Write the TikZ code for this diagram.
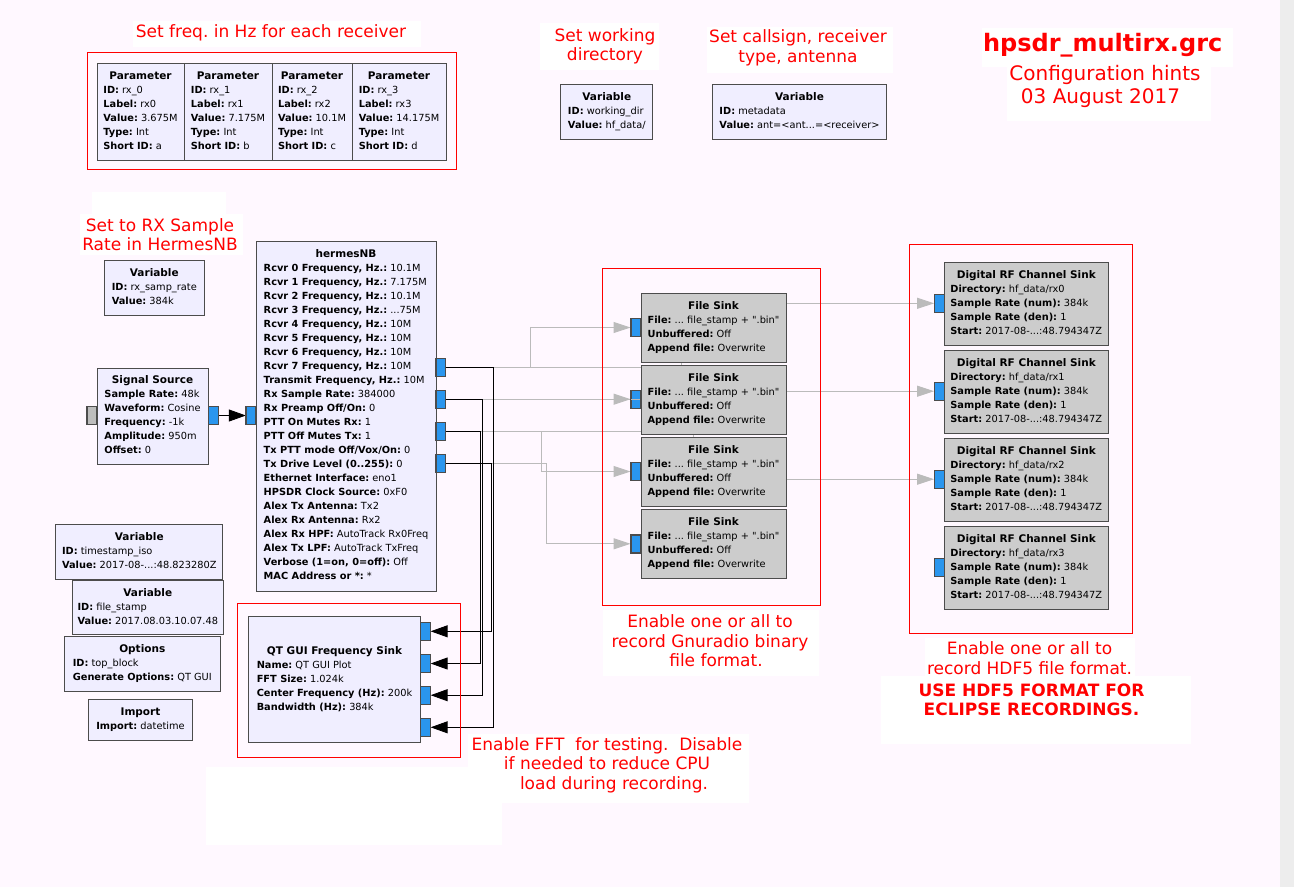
\documentclass[tikz,border=0pt]{standalone}
\usepackage{fontspec}
\setmainfont{DejaVu Sans}[Ligatures=TeXOff]
\usetikzlibrary{arrows.meta,calc}
\frenchspacing
\definecolor{bgc}{HTML}{FFF8FF}
\definecolor{stripc}{HTML}{EDEDED}
\definecolor{blkfill}{HTML}{F0EEFF}
\definecolor{disfill}{HTML}{CCCCCC}
\definecolor{bordc}{HTML}{4C4C4C}
\definecolor{portc}{HTML}{2A96EE}
\definecolor{gportc}{HTML}{BDBDBD}
\definecolor{glinec}{HTML}{BBBBBB}
\newcommand\kvp[2]{\textbf{#1:} #2}
\newcommand\blkt[2]{{\fontsize{9.8}{14}\selectfont\begin{tabular}{@{}l@{}}\multicolumn{1}{@{}c@{}}{\fontsize{10.5}{14}\selectfont\bfseries #1}\\ #2\end{tabular}}}
\begin{document}
\begin{tikzpicture}[x=1pt,y=-1pt,
  blk/.style={draw=bordc, line width=0.95pt, fill=blkfill, inner sep=0pt, text=black},
  dblk/.style={blk, fill=disfill},
  port/.style={draw=bordc, line width=0.8pt, fill=portc, minimum width=9.5pt, minimum height=17.5pt, inner sep=0pt},
  gport/.style={port, fill=gportc},
  sig/.style={draw=black, line width=0.9pt, -{Triangle[length=17pt,width=12pt]}},
  dsig/.style={draw=glinec, line width=0.9pt, -{Triangle[length=17pt,width=11pt]}},
  redbox/.style={draw=red, line width=0.9pt},
  whitebox/.style={fill=white},
  note/.style={text=red, font=\fontsize{17}{19.4}\selectfont, align=center, inner sep=0pt},
]
\useasboundingbox (0,0) rectangle (1294,887);
\fill[bgc] (0,0) rectangle (1280,887);
\fill[stripc] (1280,0) rectangle (1294,887);

% ---------- ports ----------
\node[gport] (ss_i) at (92,415.5) {};
\node[port] (ss_o) at (213.3,415.5) {};
\node[port] (h_i) at (251,415.5) {};
\node[port] (h_o0) at (440.5,367.2) {};
\node[port] (h_o1) at (440.5,399.2) {};
\node[port] (h_o2) at (440.5,431.5) {};
\node[port] (h_o3) at (440.5,463.2) {};
\node[port] (fs0_i) at (635.7,327.5) {};
\node[port] (fs1_i) at (635.7,399.5) {};
\node[port] (fs2_i) at (635.7,471.5) {};
\node[port] (fs3_i) at (635.7,543.8) {};
\node[port] (drf0_i) at (939.3,303.3) {};
\node[port] (drf1_i) at (939.3,391.2) {};
\node[port] (drf2_i) at (939.3,479.2) {};
\node[port] (drf3_i) at (939.3,567.5) {};
\node[port] (qt_i0) at (425.5,727.3) {};
\node[port] (qt_i1) at (425.5,695.2) {};
\node[port] (qt_i2) at (425.5,663.5) {};
\node[port] (qt_i3) at (425.5,631.3) {};

% ---------- connections ----------
\draw[dsig] (h_o0.east) -- ++(84.3,0) |- (fs0_i.west);
\draw[dsig] (h_o0.east) -- ++(236,0) |- (drf0_i.west);
\draw[dsig] (h_o1.east) -- (h_o1.east -| fs1_i.west);
\draw[dsig] (h_o1.east) -- ++(255,0) |- (drf1_i.west);
\draw[dsig] (h_o2.east) -- ++(95.3,0) |- (fs2_i.west);
\draw[dsig] (h_o2.east) -- ++(247.7,0) |- (drf2_i.west);
\draw[dsig] (h_o3.east) -- ++(100.3,0) |- (fs3_i.west);
\draw[sig] (ss_o.east) -- (h_i.west);
\draw[sig] (h_o0.east) -- ++(47.5,0) |- (qt_i0.east);
\draw[sig] (h_o1.east) -- ++(36.7,0) |- (qt_i1.east);
\draw[sig] (h_o2.east) -- ++(34.7,0) |- (qt_i2.east);
\draw[sig] (h_o3.east) -- ++(45.5,0) |- (qt_i3.east);

% ---------- white text backgrounds ----------
\fill[whitebox] (133,21) rectangle (421,47);
\fill[whitebox] (540,23) rectangle (659,70);
\fill[whitebox] (707,27) rectangle (893,73);
\fill[whitebox] (982,28) rectangle (1233,67);
\fill[whitebox] (1007,67) rectangle (1211,121);
\fill[whitebox] (92,192) rectangle (226,215);
\fill[whitebox] (80,214) rectangle (243,255);
\fill[whitebox] (603,610) rectangle (819,676);
\fill[whitebox] (925,638) rectangle (1135,677);
\fill[whitebox] (881,676) rectangle (1191,744);
\fill[whitebox] (468,734) rectangle (749,803);
\fill[whitebox] (206,767) rectangle (502,845);

% ---------- red frames ----------
\draw[redbox] (87,52) rectangle (456,169);
\draw[redbox] (602,268) rectangle (820,605);
\draw[redbox] (909,244) rectangle (1132,633);
\draw[redbox] (237,603) rectangle (460,757);

% ---------- blocks ----------
\node[blk, minimum width=87pt, minimum height=97pt] (p0) at (140.5,111.5)
  {\blkt{Parameter}{\kvp{ID}{rx\_0}\\ \kvp{Label}{rx0}\\ \kvp{Value}{3.675M}\\ \kvp{Type}{Int}\\ \kvp{Short ID}{a}}};
\node[blk, minimum width=88pt, minimum height=97pt] (p1) at (228,111.5)
  {\blkt{Parameter}{\kvp{ID}{rx\_1}\\ \kvp{Label}{rx1}\\ \kvp{Value}{7.175M}\\ \kvp{Type}{Int}\\ \kvp{Short ID}{b}}};
\node[blk, minimum width=80pt, minimum height=97pt] (p2) at (312,111.5)
  {\blkt{Parameter}{\kvp{ID}{rx\_2}\\ \kvp{Label}{rx2}\\ \kvp{Value}{10.1M}\\ \kvp{Type}{Int}\\ \kvp{Short ID}{c}}};
\node[blk, minimum width=94pt, minimum height=97pt] (p3) at (399,111.5)
  {\blkt{Parameter}{\kvp{ID}{rx\_3}\\ \kvp{Label}{rx3}\\ \kvp{Value}{14.175M}\\ \kvp{Type}{Int}\\ \kvp{Short ID}{d}}};

\node[blk, minimum width=91.7pt, minimum height=55pt] (vwd) at (606.8,111.8)
  {\blkt{Variable}{\kvp{ID}{working\_dir}\\ \kvp{Value}{hf\_data/}}};
\node[blk, minimum width=174.4pt, minimum height=55pt] (vmeta) at (799.5,111.8)
  {\blkt{Variable}{\kvp{ID}{metadata}\\ \kvp{Value}{ant=<ant...=<receiver>}}};
\node[blk, minimum width=100pt, minimum height=54.6pt] (vrate) at (154.3,288)
  {\blkt{Variable}{\kvp{ID}{rx\_samp\_rate}\\ \kvp{Value}{384k}}};

\node[blk, minimum width=111pt, minimum height=96pt] (ss) at (152.5,416)
  {\blkt{Signal Source}{\kvp{Sample Rate}{48k}\\ \kvp{Waveform}{Cosine}\\ \kvp{Frequency}{-1k}\\ \kvp{Amplitude}{950m}\\ \kvp{Offset}{0}}};

\node[blk, minimum width=180pt, minimum height=350pt] (hermes) at (346,416)
  {\blkt{hermesNB}{\kvp{Rcvr 0 Frequency, Hz.}{10.1M}\\
   \kvp{Rcvr 1 Frequency, Hz.}{7.175M}\\
   \kvp{Rcvr 2 Frequency, Hz.}{10.1M}\\
   \kvp{Rcvr 3 Frequency, Hz.}{...75M}\\
   \kvp{Rcvr 4 Frequency, Hz.}{10M}\\
   \kvp{Rcvr 5 Frequency, Hz.}{10M}\\
   \kvp{Rcvr 6 Frequency, Hz.}{10M}\\
   \kvp{Rcvr 7 Frequency, Hz.}{10M}\\
   \kvp{Transmit Frequency, Hz.}{10M}\\
   \kvp{Rx Sample Rate}{384000}\\
   \kvp{Rx Preamp Off/On}{0}\\
   \kvp{PTT On Mutes Rx}{1}\\
   \kvp{PTT Off Mutes Tx}{1}\\
   \kvp{Tx PTT mode Off/Vox/On}{0}\\
   \kvp{Tx Drive Level (0..255)}{0}\\
   \kvp{Ethernet Interface}{eno1}\\
   \kvp{HPSDR Clock Source}{0xF0}\\
   \kvp{Alex Tx Antenna}{Tx2}\\
   \kvp{Alex Rx Antenna}{Rx2}\\
   \kvp{Alex Rx HPF}{AutoTrack Rx0Freq}\\
   \kvp{Alex Tx LPF}{AutoTrack TxFreq}\\
   \kvp{Verbose (1=on, 0=off)}{Off}\\
   \kvp{MAC Address or *}{*}}};

\foreach \k/\yy in {0/327.8,1/400,2/471.8,3/543.8}{
  \node[dblk, minimum width=145pt, minimum height=69pt] (fs\k) at (713.5,\yy)
   {\blkt{File Sink}{\kvp{File}{... file\_stamp + ".bin"}\\ \kvp{Unbuffered}{Off}\\ \kvp{Append file}{Overwrite}}};
}
\foreach \k/\yy in {0/304,1/391.7,2/480,3/567.7}{
  \node[dblk, minimum width=164pt, minimum height=83.4pt] (drf\k) at (1026.3,\yy)
   {\blkt{Digital RF Channel Sink}{\kvp{Directory}{hf\_data/rx\k}\\ \kvp{Sample Rate (num)}{384k}\\ \kvp{Sample Rate (den)}{1}\\ \kvp{Start}{2017-08-...:48.794347Z}}};
}

\node[blk, minimum width=166.7pt, minimum height=55pt] (vts) at (139.3,551.8)
  {\blkt{Variable}{\kvp{ID}{timestamp\_iso}\\ \kvp{Value}{2017-08-...:48.823280Z}}};
\node[blk, minimum width=151pt, minimum height=54.3pt] (vfs) at (147.8,607.8)
  {\blkt{Variable}{\kvp{ID}{file\_stamp}\\ \kvp{Value}{2017.08.03.10.07.48}}};
\node[blk, minimum width=156pt, minimum height=54.6pt] (opts) at (142.3,664)
  {\blkt{Options}{\kvp{ID}{top\_block}\\ \kvp{Generate Options}{QT GUI}}};
\node[blk, minimum width=103.6pt, minimum height=41pt] (imp) at (140.5,719.8)
  {\blkt{Import}{\kvp{Import}{datetime}}};

\node[blk, minimum width=172.4pt, minimum height=125.6pt] (qt) at (334.5,679.5)
  {\blkt{QT GUI Frequency Sink}{\kvp{Name}{QT GUI Plot}\\ \kvp{FFT Size}{1.024k}\\ \kvp{Center Frequency (Hz)}{200k}\\ \kvp{Bandwidth (Hz)}{384k}}};

% redraw port outlines on top of blocks
\foreach \p in {ss_i,ss_o,h_i,h_o0,h_o1,h_o2,h_o3,fs0_i,fs1_i,fs2_i,fs3_i,drf0_i,drf1_i,drf2_i,drf3_i,qt_i0,qt_i1,qt_i2,qt_i3}{
  \draw[bordc, line width=0.8pt] (\p.south west) rectangle (\p.north east);
}

% ---------- notes ----------
\node[note] (nfreq) at (271,33) {Set freq. in Hz for each receiver};
\node[note] (nwd) at (605,46.5) {Set working\\directory};
\node[note] (nmeta) at (798,48) {Set callsign, receiver\\type, antenna};
\node[text=red, font=\fontsize{24}{28}\selectfont\bfseries, inner sep=0pt] (ntitle) at (1102.7,45) {hpsdr\_multirx.grc};
\node[text=red, font=\fontsize{20}{22.4}\selectfont, align=center, inner sep=0pt] (nconf) at (1105,86.5) {Configuration hints\\\hspace*{-9pt}03 August 2017};
\node[note] (nrate) at (160,234.5) {Set to RX Sample\\Rate in HermesNB};
\node[note] (ngnu) at (710,641) {Enable one or all to\\record Gnuradio binary\\\hspace*{12pt}file format.};
\node[note] (nhdf) at (1029.5,658) {Enable one or all to\\record HDF5 file format.};
\node[note, font=\fontsize{17}{19.4}\selectfont\bfseries] (nuse) at (1031.5,699.7) {USE HDF5 FORMAT FOR\\ECLIPSE RECORDINGS.};
\node[note] (nfft) at (607,765) {Enable FFT\ \ for testing.\ \ Disable\\if needed to reduce CPU\\\hspace*{14pt}load during recording.};
\end{tikzpicture}
\end{document}
